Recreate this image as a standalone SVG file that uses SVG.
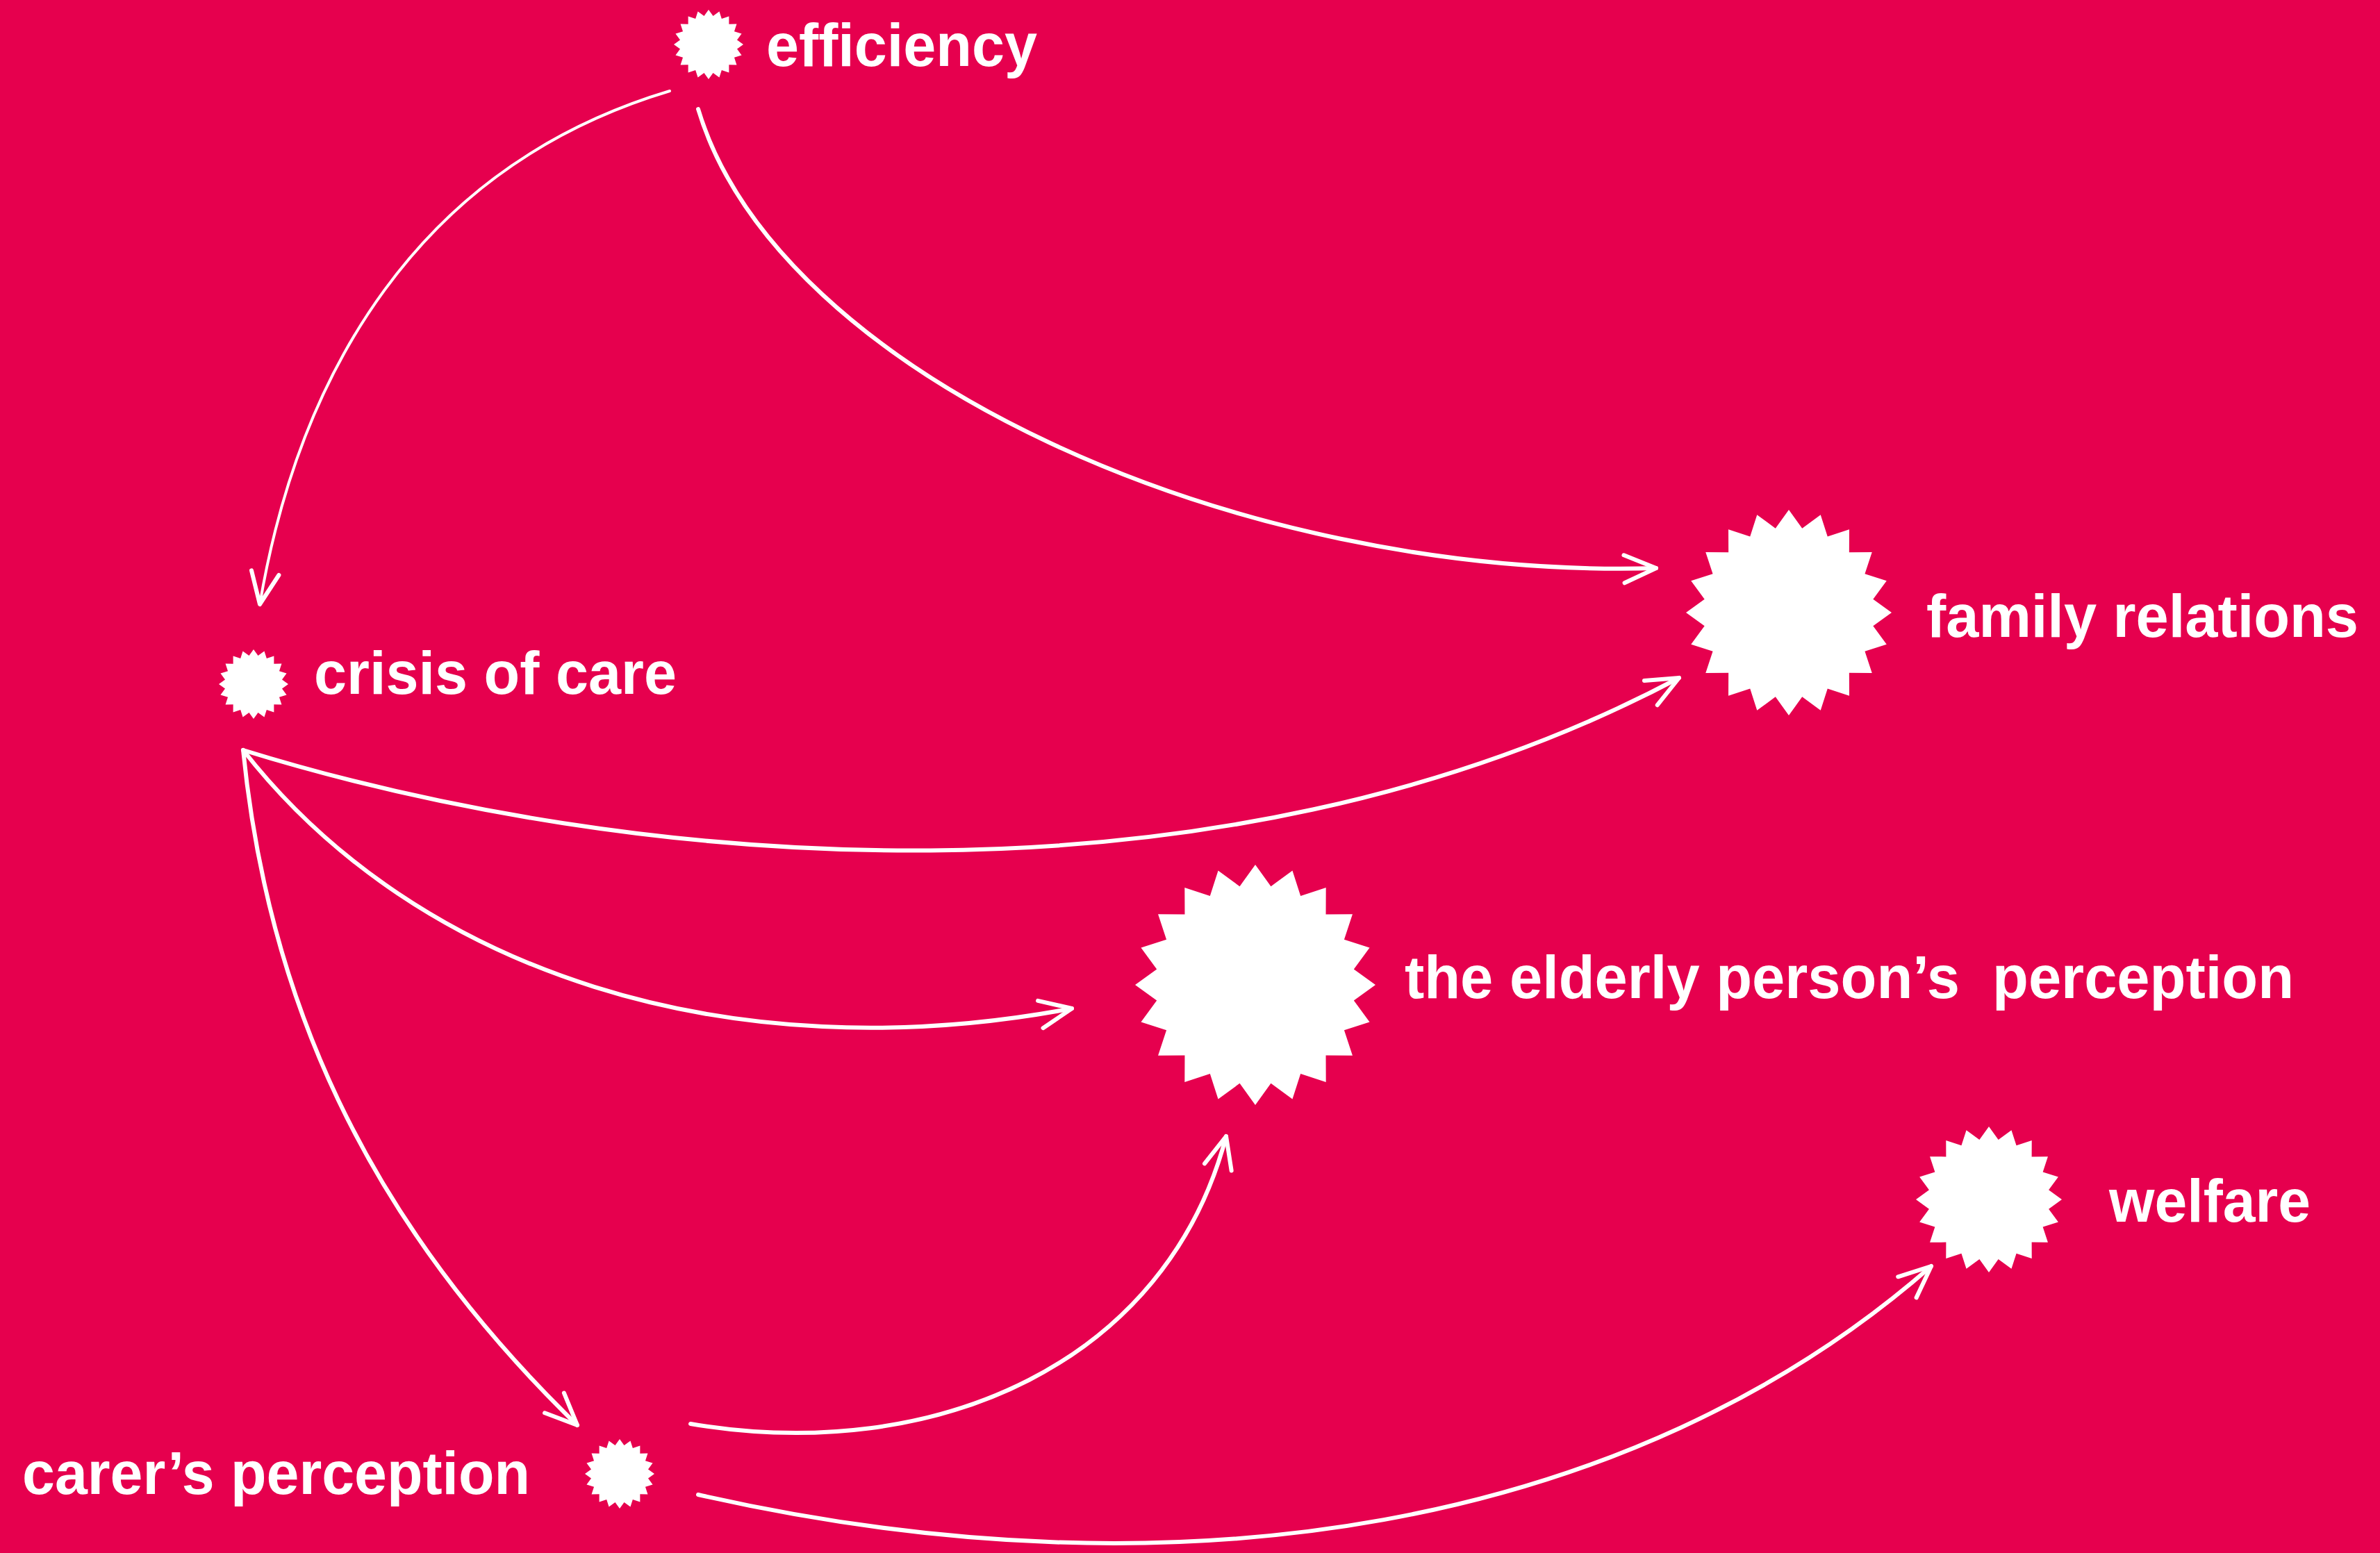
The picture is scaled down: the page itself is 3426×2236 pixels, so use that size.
<svg xmlns="http://www.w3.org/2000/svg" xmlns:xlink="http://www.w3.org/1999/xlink" width="3426" height="2236" viewBox="0 0 3426 2236">
<style>
.bg{fill:#E6004E}
.star{fill:#FFFFFF}
.lbl{font-family:"Liberation Sans",Arial,sans-serif;font-weight:bold;font-size:88px;fill:#FFFFFF}
.edge{fill:none;stroke:#FFFFFF;stroke-width:6;stroke-linecap:round;marker-end:url(#arr)}
.thin{stroke-width:4}
</style>
<defs>
<path id="star" d="M0,-100 L12.98,-81.98 L30.90,-95.11 L37.68,-73.95 L58.78,-80.90 L58.69,-58.69 L80.90,-58.78 L73.95,-37.68 L95.11,-30.90 L81.98,-12.98 L100,0 L81.98,12.98 L95.11,30.90 L73.95,37.68 L80.90,58.78 L58.69,58.69 L58.78,80.90 L37.68,73.95 L30.90,95.11 L12.98,81.98 L0,100 L-12.98,81.98 L-30.90,95.11 L-37.68,73.95 L-58.78,80.90 L-58.69,58.69 L-80.90,58.78 L-73.95,37.68 L-95.11,30.90 L-81.98,12.98 L-100,0 L-81.98,-12.98 L-95.11,-30.90 L-73.95,-37.68 L-80.90,-58.78 L-58.69,-58.69 L-58.78,-80.90 L-37.68,-73.95 L-30.90,-95.11 L-12.98,-81.98 Z"/>
<marker id="arr" markerUnits="userSpaceOnUse" viewBox="0 0 60 60" markerWidth="60" markerHeight="60" refX="52" refY="30" orient="auto" overflow="visible">
<path d="M6,10 L52,30 L6,50" fill="none" stroke="#FFFFFF" stroke-width="6" stroke-linecap="round" stroke-linejoin="round"/>
</marker>
</defs>
<rect class="bg" x="0" y="0" width="3426" height="2236"/>
<g id="connectors">
<path class="edge thin" d="M964,131 C600,240 430,540 374,870"/>
<path class="edge" d="M1005,157 C1120,540 1780,835 2384,818"/>
<path class="edge" d="M350,1080 C900,1250 1750,1330 2417,976"/>
<path class="edge" d="M350,1080 C600,1400 1050,1545 1543,1452"/>
<path class="edge" d="M350,1080 C385,1430 520,1750 831,2052"/>
<path class="edge" d="M994,2050 C1350,2110 1680,1960 1765,1636"/>
<path class="edge" d="M1005,2152 C1700,2310 2350,2200 2780,1823"/>
</g>
<g id="node-efficiency">
<use href="#star" class="star" transform="translate(1020,64) scale(0.5)"/>
<text class="lbl" x="1103" y="95" textLength="390" lengthAdjust="spacingAndGlyphs">efficiency</text>
</g>
<g id="node-crisis">
<use href="#star" class="star" transform="translate(365,985) scale(0.5)"/>
<text class="lbl" x="452" y="999" textLength="522" lengthAdjust="spacingAndGlyphs">crisis of care</text>
</g>
<g id="node-family">
<use href="#star" class="star" transform="translate(2575,882) scale(1.48)"/>
<text class="lbl" x="2773" y="917" textLength="622" lengthAdjust="spacingAndGlyphs">family relations</text>
</g>
<g id="node-elderly">
<use href="#star" class="star" transform="translate(1807,1418) scale(1.73)"/>
<text class="lbl" x="2022" y="1437" textLength="1280" lengthAdjust="spacingAndGlyphs" xml:space="preserve">the elderly person’s  perception</text>
</g>
<g id="node-welfare">
<use href="#star" class="star" transform="translate(2863,1727) scale(1.05)"/>
<text class="lbl" x="3036" y="1759" textLength="290" lengthAdjust="spacingAndGlyphs">welfare</text>
</g>
<g id="node-carer">
<use href="#star" class="star" transform="translate(892,2122) scale(0.5)"/>
<text class="lbl" x="32" y="2151" textLength="731" lengthAdjust="spacingAndGlyphs">carer’s perception</text>
</g>
</svg>
